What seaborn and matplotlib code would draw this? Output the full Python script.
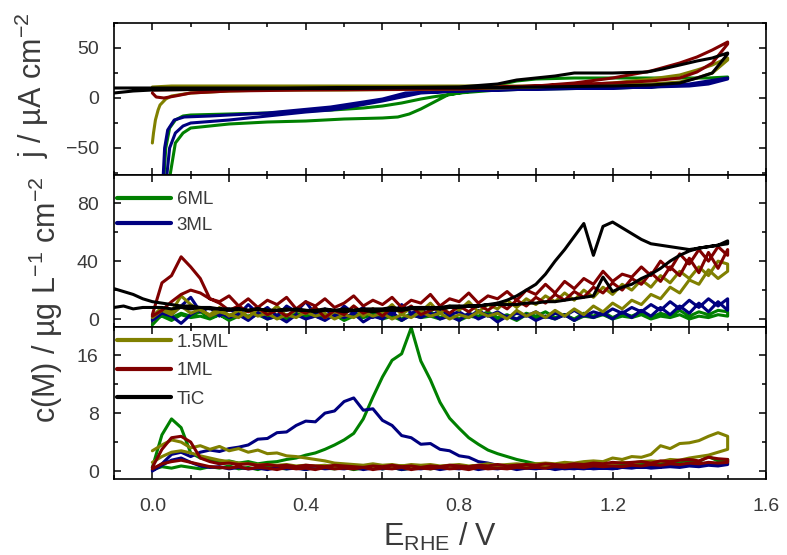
import matplotlib
matplotlib.use("Agg")
import matplotlib.pyplot as plt
import seaborn as sns
from matplotlib.lines import Line2D
from matplotlib.ticker import MultipleLocator, FuncFormatter

# ---------------- data ----------------
series_names = ["6ML", "3ML", "1.5ML", "1ML", "TiC"]
series_colors = ["#008000", "#000080", "#808000", "#800000", "#000000"]

# top panel: cyclic voltammograms (E / V, j / uA cm-2), full loop
cv_6ml_E = [0.030, 0.035, 0.045, 0.060, 0.080, 0.100, 0.200, 0.300, 0.400, 0.470, 0.550, 0.600, 0.650,
            0.700, 0.730, 0.800, 0.850, 0.900, 0.950, 1.000, 1.100, 1.200, 1.300, 1.400, 1.450, 1.500,
            1.500, 1.450, 1.400, 1.300, 1.200, 1.000, 0.900, 0.800, 0.770, 0.750, 0.730, 0.700, 0.670,
            0.640, 0.600, 0.500, 0.400, 0.300, 0.200, 0.150, 0.100, 0.080, 0.060, 0.045]
cv_6ml_j = [-80, -50, -30, -22, -18, -17, -16, -15, -13, -12, -10, -8, -5,
            -1, 1, 5, 8, 13, 17, 19, 20, 20, 20, 20, 20, 21,
            20, 16, 13, 11, 10, 9, 8, 5, 3, -1, -5, -11, -16,
            -19, -20, -21, -23, -24, -26, -28, -30, -35, -45, -80]

cv_3ml_E = [0.028, 0.032, 0.040, 0.057, 0.083, 0.150, 0.300, 0.465, 0.550, 0.600, 0.660, 0.800, 1.000,
            1.200, 1.300, 1.400, 1.450, 1.500,
            1.500, 1.450, 1.400, 1.200, 1.000, 0.800, 0.700, 0.600, 0.500, 0.465, 0.400, 0.300, 0.200,
            0.100, 0.080, 0.060, 0.045, 0.037]
cv_3ml_j = [-80, -50, -32, -22, -19, -18, -15, -9, -4, -1, 5, 7, 9,
            10, 11, 14, 17, 20,
            19, 14, 12, 10, 9, 7, 5, -3, -10, -12, -14, -18, -22,
            -25, -28, -35, -50, -80]

cv_15ml_E = [0.000, 0.003, 0.008, 0.015, 0.020, 0.035, 0.050, 0.100, 0.200, 0.300, 0.500, 0.800, 1.000,
             1.200, 1.300, 1.375, 1.420, 1.460, 1.500,
             1.500, 1.460, 1.420, 1.375, 1.300, 1.200, 1.000, 0.800, 0.500, 0.200, 0.050, 0.000]
cv_15ml_j = [-45, -35, -22, -12, -7, -1, 2, 5, 7, 8, 8, 9, 11,
             15, 19, 23, 28, 33, 40,
             38, 25, 20, 16, 14, 13, 12, 12, 12, 12, 12, 11]

cv_1ml_E = [0.000, 0.010, 0.030, 0.060, 0.100, 0.200, 0.400, 0.800, 1.000, 1.100, 1.200, 1.300, 1.375,
            1.420, 1.460, 1.500,
            1.500, 1.460, 1.420, 1.375, 1.300, 1.200, 1.000, 0.800, 0.500, 0.200, 0.000]
cv_1ml_j = [5, 1, 0, 2, 5, 7, 8, 9, 12, 15, 20, 27, 35,
            41, 48, 56,
            54, 35, 26, 20, 17, 15, 12, 10, 9, 9, 8]

cv_tic_E = [-0.100, -0.050, 0.000, 0.200, 0.500, 0.800, 0.900, 0.950, 1.000, 1.050, 1.100, 1.200, 1.290,
            1.330, 1.375, 1.420, 1.460, 1.500,
            1.500, 1.460, 1.420, 1.375, 1.300, 1.200, 1.000, 0.800, 0.500, 0.200, 0.000, -0.100]
cv_tic_j = [5, 7, 8, 9, 10, 11, 14, 18, 20, 22, 25, 25, 26,
            29, 33, 37, 40, 45,
            44, 25, 20, 15, 13, 12, 11, 10, 10, 10, 10, 10]

# potential grid of the ICP-MS dissolution profiles (V vs RHE)
potential = [0.000, 0.025, 0.050, 0.075, 0.100, 0.125, 0.150, 0.175, 0.200, 0.225,
             0.250, 0.275, 0.300, 0.325, 0.350, 0.375, 0.400, 0.425, 0.450, 0.475,
             0.500, 0.525, 0.550, 0.575, 0.600, 0.625, 0.650, 0.675, 0.700, 0.725,
             0.750, 0.775, 0.800, 0.825, 0.850, 0.875, 0.900, 0.925, 0.950, 0.975,
             1.000, 1.025, 1.050, 1.075, 1.100, 1.125, 1.150, 1.175, 1.200, 1.225,
             1.250, 1.275, 1.300, 1.325, 1.350, 1.375, 1.400, 1.425, 1.450, 1.475,
             1.500]
potential_tic_start = [-0.100, -0.075, -0.050, -0.025]

# middle panel: c / ug L-1 cm-2 ; anodic (fwd) and cathodic (ret) sweeps on grid order
mid_1ml_fwd = [3, 25, 30, 43, 36, 28, 14, 12, 16, 9,
               14, 8, 13, 10, 15, 7, 12, 9, 14, 8,
               11, 16, 9, 13, 10, 15, 8, 13, 11, 17,
               9, 14, 12, 18, 11, 16, 14, 19, 13, 20,
               17, 24, 18, 26, 21, 28, 24, 33, 26, 31,
               29, 36, 30, 40, 34, 45, 38, 48, 40, 50,
               44]
mid_1ml_ret = [2, 6, 12, 17, 20, 18, 14, 11, 6, 9,
               5, 8, 3, 6, 2, 7, 4, 8, 1, 6,
               3, 9, 4, 7, 2, 8, 5, 9, 3, 6,
               8, 4, 9, 5, 10, 6, 11, 7, 13, 9,
               15, 11, 17, 13, 19, 15, 22, 18, 25, 20,
               28, 24, 32, 26, 36, 30, 42, 32, 46, 35,
               48]
mid_15ml_fwd = [2, 8, 5, 16, 10, 6, 3, 8, 2, 6,
                1, 7, 3, 9, 2, 6, 4, 8, 1, 5,
                3, 9, 2, 7, 4, 10, 3, 8, 5, 11,
                4, 9, 6, 12, 5, 10, 7, 13, 8, 14,
                10, 16, 12, 18, 13, 20, 15, 22, 17, 24,
                20, 27, 22, 30, 25, 33, 28, 36, 30, 40,
                38]
mid_15ml_ret = [1, 6, 3, 9, 4, 7, 2, 5, 3, 1,
                6, 2, 4, 0, 3, 1, 5, 2, 4, 0,
                3, 1, 5, 2, 4, 0, 3, 1, 5, 2,
                4, 0, 3, 1, 5, 2, 4, 0, 6, 2,
                5, 1, 6, 2, 7, 3, 9, 5, 11, 7,
                13, 10, 17, 14, 22, 18, 27, 24, 34, 28,
                33]
mid_3ml_fwd = [0, 6, 3, 9, 15, 5, 8, 2, 7, 3,
               10, 4, 8, 2, 9, 5, 12, 3, 7, 2,
               9, 4, 8, 1, 6, 3, 10, 4, 7, 2,
               6, 3, 5, 1, 6, 2, 5, 1, 4, 2,
               5, 1, 4, 2, 6, 2, 5, 3, 7, 4,
               8, 5, 10, 6, 12, 7, 13, 8, 14, 9,
               14]
mid_3ml_ret = [-1, 4, 2, -3, 3, 7, 2, 5, 1, 3,
               -1, 4, 0, 2, -2, 3, 0, 2, -1, 3,
               1, 4, -2, 2, 0, 5, -1, 3, 1, 4,
               0, 2, -1, 4, 0, 3, -2, 2, 0, 3,
               -1, 2, 0, 3, -1, 3, 1, 4, 0, 5,
               1, 6, 2, 8, 3, 9, 4, 11, 5, 12,
               6]
mid_6ml_fwd = [-4, 3, 1, 4, 2, 5, 1, 3, 0, 4,
               2, 5, 1, 3, 0, 4, 2, 5, 1, 3,
               0, 4, 2, 5, 1, 3, 0, 4, 2, 5,
               1, 3, 0, 4, 2, 5, 1, 3, 0, 4,
               2, 5, 1, 3, 0, 4, 2, 5, 1, 4,
               2, 5, 1, 4, 2, 6, 2, 5, 3, 6,
               5]
mid_6ml_ret = [0, 2, -1, 3, 1, 2, 0, 3, -1, 2,
               1, 3, 0, 2, -1, 3, 1, 2, 0, 3,
               -1, 2, 1, 3, 0, 2, -1, 3, 1, 2,
               0, 3, -1, 2, 1, 3, 0, 2, -1, 3,
               1, 2, 0, 3, -1, 2, 1, 3, 0, 2,
               1, 3, 0, 2, 1, 3, 0, 2, 1, 3,
               2]
mid_tic_fwd = [8, 9, 7, 8,
               8, 8, 7, 8, 7, 8, 7, 7, 6, 7,
               6, 7, 6, 6, 7, 6, 6, 5, 6, 6,
               5, 6, 6, 5, 6, 6, 6, 7, 7, 7,
               7, 8, 8, 9, 9, 10, 11, 13, 16, 20,
               24, 31, 40, 48, 57, 66, 44, 64, 67, 63,
               59, 55, 52, 51, 50, 49, 48, 49, 50, 51,
               54]
mid_tic_ret = [21, 19, 17, 14,
               12, 11, 10, 9, 9, 8, 8, 7, 7, 7,
               6, 7, 6, 6, 6, 7, 6, 6, 7, 6,
               7, 6, 7, 7, 7, 8, 7, 8, 8, 8,
               8, 9, 9, 9, 9, 10, 10, 10, 10, 11,
               11, 12, 12, 13, 14, 15, 16, 29, 19, 22,
               24, 28, 31, 35, 40, 44, 47, 49, 50, 51,
               52]

# bottom panel: c(M) / ug L-1 cm-2
bot_6ml_fwd = [0.5, 5.0, 7.2, 6.0, 2.5, 1.8, 1.5, 1.2, 1.4, 1.1,
               1.3, 1.0, 1.2, 1.3, 1.6, 1.8, 2.2, 2.5, 3.0, 3.6,
               4.3, 5.2, 7.2, 10.2, 13.0, 15.3, 16.2, 19.8, 15.2, 12.6,
               9.5, 7.3, 5.9, 4.6, 3.7, 2.9, 2.4, 2.0, 1.6, 1.3,
               1.0, 0.9, 0.7, 0.8, 0.6, 0.8, 0.7, 0.9, 0.8, 1.0,
               0.9, 1.1, 1.0, 1.2, 1.1, 1.3, 1.4, 1.3, 2.0, 1.4,
               1.6]
bot_6ml_ret = [0.2, 0.6, 0.4, 0.7, 0.5, 0.3, 0.6, 0.4, 0.7, 0.3,
               0.5, 0.2, 0.6, 0.4, 0.3, 0.5, 0.2, 0.6, 0.4, 0.3,
               0.5, 0.2, 0.4, 0.6, 0.3, 0.5, 0.2, 0.4, 0.6, 0.3,
               0.5, 0.4, 0.6, 0.3, 0.5, 0.4, 0.6, 0.5, 0.7, 0.4,
               0.6, 0.5, 0.7, 0.5, 0.6, 0.4, 0.7, 0.5, 0.6, 0.8,
               0.6, 0.9, 0.7, 0.8, 0.9, 0.8, 1.0, 0.9, 1.1, 1.0,
               1.2]
bot_3ml_fwd = [0.1, 1.0, 2.3, 2.6, 2.0, 2.6, 2.9, 2.7, 3.1, 3.3,
               3.6, 4.4, 4.5, 5.3, 5.4, 6.3, 6.9, 6.8, 8.0, 8.3,
               9.6, 10.1, 8.4, 8.6, 7.0, 6.3, 4.9, 4.6, 3.7, 3.8,
               3.0, 2.8, 2.1, 1.9, 1.3, 1.1, 0.8, 0.7, 0.6, 0.5,
               0.5, 0.4, 0.5, 0.3, 0.4, 0.3, 0.5, 0.4, 0.4, 0.5,
               0.6, 0.5, 0.7, 0.6, 0.8, 0.7, 0.9, 0.8, 1.0, 0.9,
               1.1]
bot_3ml_ret = [0.0, 0.8, 1.5, 1.8, 1.2, 0.7, 0.5, 0.6, 0.3, 0.5,
               0.3, 0.4, 0.2, 0.5, 0.3, 0.4, 0.2, 0.5, 0.3, 0.4,
               0.3, 0.5, 0.2, 0.4, 0.3, 0.5, 0.2, 0.4, 0.3, 0.5,
               0.2, 0.4, 0.3, 0.5, 0.2, 0.4, 0.3, 0.5, 0.2, 0.4,
               0.3, 0.5, 0.2, 0.4, 0.3, 0.5, 0.3, 0.4, 0.3, 0.5,
               0.4, 0.6, 0.4, 0.5, 0.6, 0.5, 0.7, 0.6, 0.8, 0.7,
               0.9]
bot_15ml_fwd = [2.8, 3.6, 4.3, 4.0, 3.2, 3.5, 3.0, 3.4, 2.8, 3.1,
                2.6, 2.9, 2.4, 2.5, 2.1, 2.0, 1.8, 1.6, 1.4, 1.1,
                1.0, 0.9, 0.8, 1.0, 0.8, 0.9, 0.7, 0.9, 0.8, 0.9,
                0.7, 0.8, 0.9, 0.7, 0.8, 1.0, 0.8, 0.9, 1.0, 0.9,
                1.0, 1.1, 1.0, 1.2, 1.1, 1.3, 1.4, 1.3, 1.8, 1.6,
                2.0, 1.9, 2.3, 3.5, 3.1, 3.8, 3.9, 4.2, 4.8, 5.3,
                4.8]
bot_15ml_ret = [1.2, 2.0, 2.6, 2.8, 2.5, 2.1, 1.8, 1.5, 1.3, 1.1,
                1.0, 0.9, 0.9, 0.8, 0.9, 0.7, 0.8, 0.7, 0.8, 0.6,
                0.7, 0.6, 0.7, 0.5, 0.7, 0.6, 0.7, 0.5, 0.6, 0.7,
                0.5, 0.6, 0.7, 0.6, 0.7, 0.5, 0.7, 0.6, 0.8, 0.7,
                0.8, 0.7, 0.9, 0.8, 0.9, 1.0, 0.9, 1.1, 1.0, 1.2,
                1.1, 1.3, 1.4, 1.3, 1.6, 1.5, 1.8, 2.0, 2.2, 2.6,
                3.0]
bot_1ml_fwd = [0.5, 3.0, 4.6, 4.8, 4.0, 1.8, 1.3, 1.0, 1.1, 0.9,
               1.0, 0.8, 0.9, 0.7, 0.8, 0.6, 0.8, 0.7, 0.6, 0.8,
               0.7, 0.6, 0.5, 0.7, 0.6, 0.8, 0.6, 0.7, 0.5, 0.7,
               0.6, 0.8, 0.7, 0.6, 0.8, 0.7, 0.9, 0.7, 0.8, 0.9,
               0.8, 1.0, 0.9, 0.8, 1.0, 0.9, 1.1, 1.0, 1.2, 1.1,
               1.2, 1.3, 1.1, 1.4, 1.3, 1.5, 1.6, 1.4, 1.9, 1.7,
               1.6]
bot_1ml_ret = [0.3, 1.0, 1.3, 1.5, 1.2, 0.9, 0.6, 0.5, 0.4, 0.6,
               0.3, 0.5, 0.4, 0.2, 0.5, 0.3, 0.4, 0.2, 0.5, 0.3,
               0.4, 0.3, 0.5, 0.2, 0.4, 0.3, 0.5, 0.2, 0.4, 0.3,
               0.5, 0.3, 0.4, 0.2, 0.5, 0.3, 0.4, 0.3, 0.5, 0.4,
               0.5, 0.4, 0.6, 0.5, 0.6, 0.5, 0.7, 0.6, 0.7, 0.6,
               0.8, 0.7, 0.9, 0.8, 1.0, 0.9, 1.1, 1.0, 1.2, 1.1,
               1.2]

# ---------------- style ----------------
sns.set_style("ticks")
plt.rcParams["font.family"] = ["Liberation Sans", "DejaVu Sans"]
plt.rcParams["mathtext.fontset"] = "custom"
plt.rcParams["mathtext.rm"] = "Liberation Sans"
plt.rcParams["mathtext.it"] = "Liberation Sans:italic"
TXT = "#3a3a3a"
LW = 2.2

fig = plt.figure(figsize=(7.87, 5.55), dpi=100)
L, W = 114 / 787, (766 - 114) / 787
def frac(top_px, bot_px):
    return [L, 1 - bot_px / 555, W, (bot_px - top_px) / 555]
ax_top = fig.add_axes(frac(23, 175))
ax_mid = fig.add_axes(frac(175, 327))
ax_bot = fig.add_axes(frac(327, 479))


def loop(ax, E, fwd, ret, color):
    x = list(E) + list(E)[::-1]
    y = list(fwd) + list(ret)[::-1]
    sns.lineplot(x=x, y=y, ax=ax, color=color, lw=LW, sort=False, estimator=None)


# top panel
for E, j, c in [(cv_6ml_E, cv_6ml_j, series_colors[0]), (cv_3ml_E, cv_3ml_j, series_colors[1]),
                (cv_15ml_E, cv_15ml_j, series_colors[2]), (cv_1ml_E, cv_1ml_j, series_colors[3]),
                (cv_tic_E, cv_tic_j, series_colors[4])]:
    sns.lineplot(x=E, y=j, ax=ax_top, color=c, lw=LW, sort=False, estimator=None)

# middle panel
loop(ax_mid, potential, mid_6ml_fwd, mid_6ml_ret, series_colors[0])
loop(ax_mid, potential, mid_3ml_fwd, mid_3ml_ret, series_colors[1])
loop(ax_mid, potential, mid_15ml_fwd, mid_15ml_ret, series_colors[2])
loop(ax_mid, potential, mid_1ml_fwd, mid_1ml_ret, series_colors[3])
loop(ax_mid, potential_tic_start + potential, mid_tic_fwd, mid_tic_ret, series_colors[4])

# bottom panel
loop(ax_bot, potential, bot_6ml_fwd, bot_6ml_ret, series_colors[0])
loop(ax_bot, potential, bot_3ml_fwd, bot_3ml_ret, series_colors[1])
loop(ax_bot, potential, bot_15ml_fwd, bot_15ml_ret, series_colors[2])
loop(ax_bot, potential, bot_1ml_fwd, bot_1ml_ret, series_colors[3])

# axes formatting
ax_top.set_ylim(-77, 75)
ax_mid.set_ylim(-5.5, 99.5)
ax_bot.set_ylim(-1.1, 19.9)
ax_top.yaxis.set_major_locator(MultipleLocator(50))
ax_top.yaxis.set_minor_locator(MultipleLocator(25))
ax_mid.yaxis.set_major_locator(MultipleLocator(40))
ax_mid.yaxis.set_minor_locator(MultipleLocator(20))
ax_bot.yaxis.set_major_locator(MultipleLocator(8))
ax_bot.yaxis.set_minor_locator(MultipleLocator(4))


def xfmt(v, pos):
    if abs(v / 0.4 - round(v / 0.4)) < 1e-6:
        return f"{v:.1f}"
    return ""


for ax in (ax_top, ax_mid, ax_bot):
    ax.set_xlim(-0.1, 1.6)
    ax.xaxis.set_major_locator(MultipleLocator(0.2))
    ax.xaxis.set_minor_locator(MultipleLocator(0.1))
    ax.set_xlabel("")
    ax.set_ylabel("")
    for s in ax.spines.values():
        s.set_visible(True)
        s.set_linewidth(1.2)
        s.set_color("black")
    ax.tick_params(which="both", direction="in", top=True, right=True, width=1.1,
                   colors="black", labelcolor=TXT, labelsize=14)
    ax.tick_params(which="major", length=5)
    ax.tick_params(which="minor", length=3)
    ax.tick_params(axis="y", pad=11)
    ax.tick_params(axis="x", pad=14)
    ax.set_facecolor("white")

ax_top.tick_params(labelbottom=False)
ax_mid.tick_params(labelbottom=False)
ax_bot.xaxis.set_major_formatter(FuncFormatter(xfmt))

# legends
handles = [Line2D([], [], color=c, lw=3) for c in series_colors]
leg_kw = dict(loc="upper left", frameon=False, fontsize=13.5, handlelength=2.9, handletextpad=0.3,
              borderaxespad=0.0, borderpad=0.0, labelcolor=TXT)
ax_mid.legend(handles[:2], series_names[:2], bbox_to_anchor=(0.004, 0.895), labelspacing=0.45, **leg_kw)
ax_bot.legend(handles[2:], series_names[2:], bbox_to_anchor=(0.004, 0.955), labelspacing=0.6, **leg_kw)

# axis titles
fig.text(0.040, 1 - 85 / 555, r"j / µA cm$^{\mathregular{-2}}$", rotation=90, ha="center", va="center",
         fontsize=22, color=TXT)
fig.text(0.058, 1 - 300 / 555, r"c(M) / µg L$^{\mathregular{-1}}$ cm$^{\mathregular{-2}}$", rotation=90,
         ha="center", va="center", fontsize=22, color=TXT)
fig.text(440 / 787, 1 - 546 / 555, r"E$_{\mathregular{RHE}}$ / V", ha="center", va="baseline",
         fontsize=22, color=TXT)

fig.savefig("out.png", dpi=100, facecolor="white")
